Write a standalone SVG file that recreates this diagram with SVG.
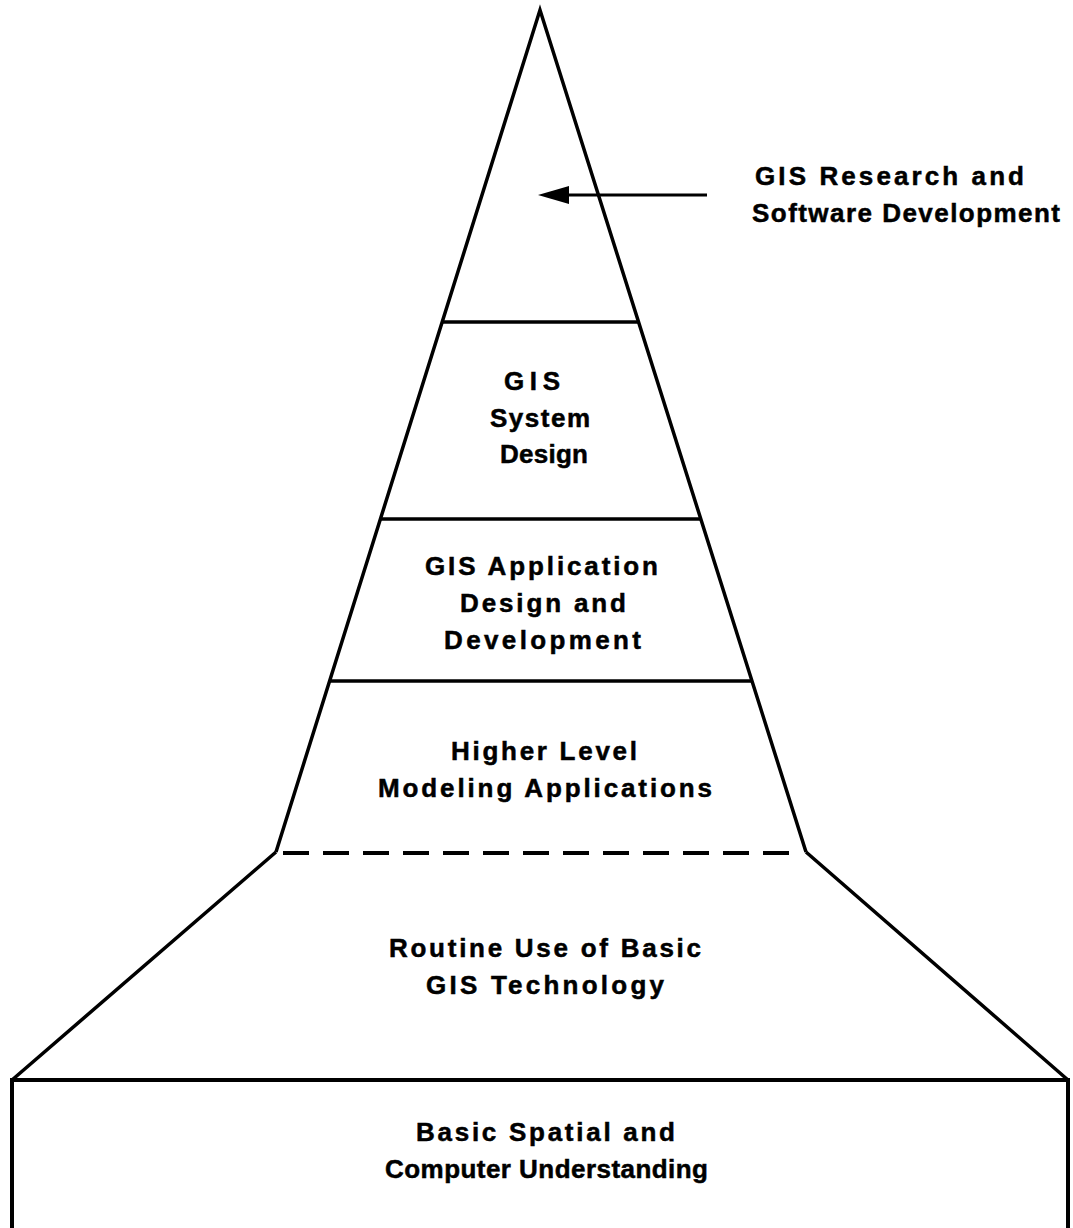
<svg xmlns="http://www.w3.org/2000/svg" width="1073" height="1228" viewBox="0 0 1073 1228">
<style>
.ln{stroke:#000;stroke-width:3.5;fill:none;stroke-linejoin:miter}
.bx{stroke:#000;stroke-width:4;fill:none}
text{font-family:"Liberation Sans",Arial,sans-serif;font-weight:bold;font-size:26px;fill:#000;stroke:#000;stroke-width:0.5}
</style>
<rect width="1073" height="1228" fill="#fff"/>
<g id="pyramid">
<path class="ln" d="M276,852 L540,10 L806,852"/>
<path class="ln" d="M276,852 L12,1080 M806,852 L1068,1080"/>
<path class="bx" d="M12,1240 L12,1080 L1068,1080 L1068,1240"/>
</g>
<g id="connectors">
<line class="ln" x1="442" y1="322" x2="639" y2="322"/>
<line class="ln" x1="381" y1="519" x2="701" y2="519"/>
<line class="ln" x1="330" y1="681" x2="753" y2="681"/>
<line x1="283" y1="853" x2="803" y2="853" stroke="#000" stroke-width="4" stroke-dasharray="26,14"/>
<line x1="707" y1="195" x2="569" y2="195" stroke="#000" stroke-width="3"/>
<path d="M538,195 L569,186 L569,204 Z" fill="#000"/>
</g>
<g id="node-research">
<text x="755" y="185" textLength="269" lengthAdjust="spacing">GIS Research and</text>
<text x="752" y="222" textLength="308" lengthAdjust="spacing">Software Development</text>
</g>
<g id="node-system">
<text x="504" y="390" textLength="56" lengthAdjust="spacing">GIS</text>
<text x="490" y="427" textLength="100" lengthAdjust="spacing">System</text>
<text x="500" y="463" textLength="88" lengthAdjust="spacing">Design</text>
</g>
<g id="node-application">
<text x="425" y="575" textLength="233" lengthAdjust="spacing">GIS Application</text>
<text x="460" y="612" textLength="166" lengthAdjust="spacing">Design and</text>
<text x="444" y="649" textLength="197" lengthAdjust="spacing">Development</text>
</g>
<g id="node-modeling">
<text x="451" y="760" textLength="186" lengthAdjust="spacing">Higher Level</text>
<text x="378" y="797" textLength="334" lengthAdjust="spacing">Modeling Applications</text>
</g>
<g id="node-routine">
<text x="389" y="957" textLength="312" lengthAdjust="spacing">Routine Use of Basic</text>
<text x="426" y="994" textLength="238" lengthAdjust="spacing">GIS Technology</text>
</g>
<g id="node-basic">
<text x="416" y="1141" textLength="259" lengthAdjust="spacing">Basic Spatial and</text>
<text x="385" y="1178" textLength="323" lengthAdjust="spacing">Computer Understanding</text>
</g>
</svg>
